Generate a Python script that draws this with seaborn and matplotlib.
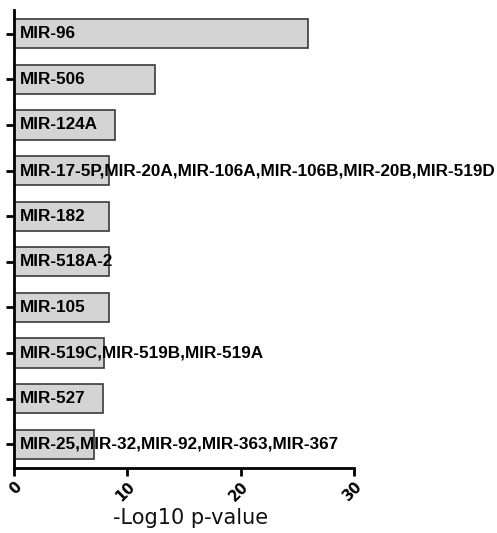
import matplotlib
matplotlib.use("Agg")
import matplotlib.pyplot as plt
import seaborn as sns
import pandas as pd

mirnas = [
    "MIR-96",
    "MIR-506",
    "MIR-124A",
    "MIR-17-5P,MIR-20A,MIR-106A,MIR-106B,MIR-20B,MIR-519D",
    "MIR-182",
    "MIR-518A-2",
    "MIR-105",
    "MIR-519C,MIR-519B,MIR-519A",
    "MIR-527",
    "MIR-25,MIR-32,MIR-92,MIR-363,MIR-367",
]
neg_log10_p = [25.9, 12.4, 8.9, 8.4, 8.35, 8.4, 8.4, 7.9, 7.85, 7.1]
x_ticks = [0, 10, 20, 30]

df = pd.DataFrame({"term": mirnas, "score": neg_log10_p})

sns.set_style("ticks")
plt.rcParams["font.family"] = ["DejaVu Sans"]
plt.rcParams["text.color"] = "black"
plt.rcParams["axes.labelcolor"] = "black"
plt.rcParams["xtick.color"] = "black"
plt.rcParams["ytick.color"] = "black"

fig = plt.figure(figsize=(4.97, 5.33), dpi=100)
ax = fig.add_axes([14 / 497, 1 - 468 / 533, 340 / 497, 458 / 533])

sns.barplot(data=df, y="term", x="score", orient="h", ax=ax,
            color="#d4d4d4", edgecolor="#3a3a3a", linewidth=1.2,
            width=0.64, saturation=1)

# names written inside the bars, starting just right of the axis
for i, name in enumerate(mirnas):
    ax.text(0.5, i, name, va="center", ha="left", fontsize=12.3,
            fontweight="bold", family="Liberation Sans", color="black")

ax.set_xlim(0, 30)
ax.set_ylim(9.52, -0.52)
ax.set_xticks(x_ticks)
ax.set_xticklabels([str(t) for t in x_ticks], rotation=45, ha="right",
                   rotation_mode="anchor", fontsize=10.5, fontweight="bold")
ax.set_yticklabels([])
ax.set_ylabel("")
ax.set_xlabel("-Log10 p-value", fontsize=15, color="#111111")
ax.xaxis.set_label_coords(0.52, -0.088, transform=ax.transAxes)

for side in ("top", "right"):
    ax.spines[side].set_visible(False)
for side in ("left", "bottom"):
    ax.spines[side].set_linewidth(2)
    ax.spines[side].set_color("black")
ax.tick_params(axis="both", width=2, length=6, color="black")
ax.tick_params(axis="x", pad=2)

fig.savefig("out.png", dpi=100)
